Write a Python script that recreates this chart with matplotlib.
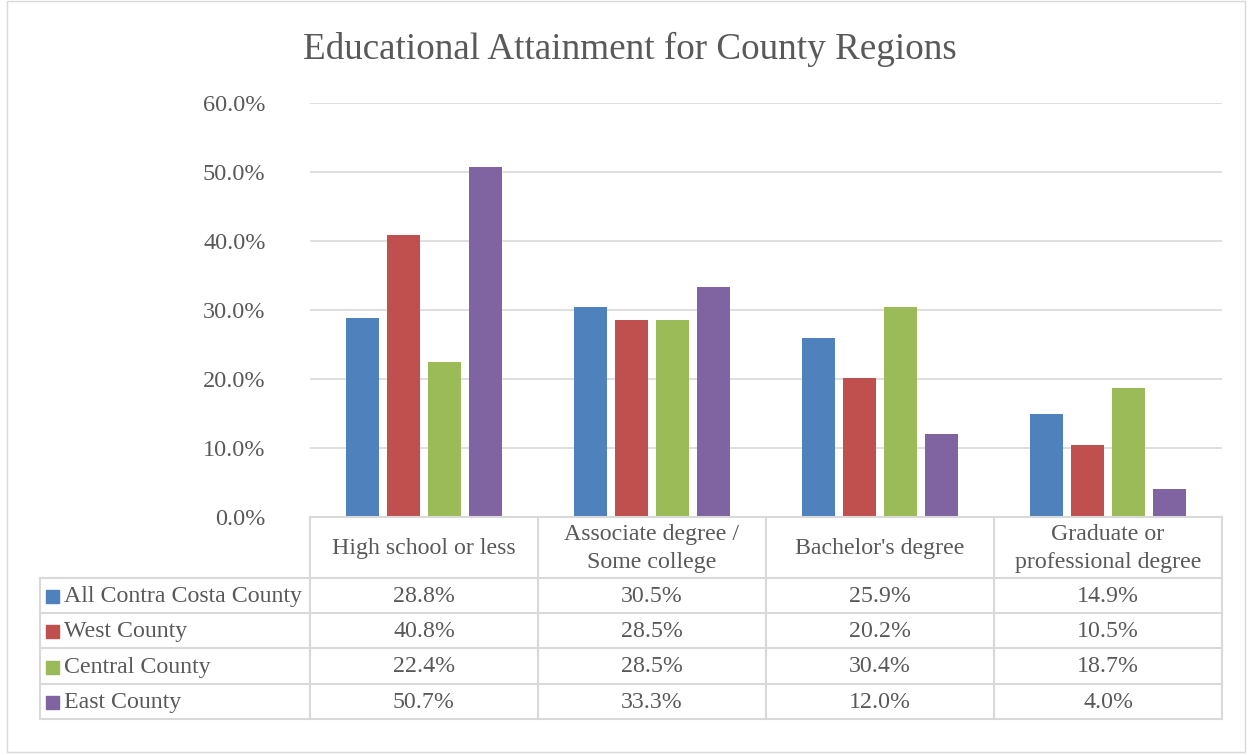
import matplotlib
matplotlib.use("Agg")
import matplotlib.pyplot as plt
from matplotlib.patches import Rectangle
from matplotlib.lines import Line2D

plt.rcParams['font.family'] = ['Liberation Serif', 'DejaVu Serif']

title = "Educational Attainment for County Regions"
categories = ["High school or less", "Associate degree /\nSome college",
              "Bachelor's degree", "Graduate or\nprofessional degree"]
series_names = ["All Contra Costa County", "West County", "Central County", "East County"]
values = [
    [28.8, 30.5, 25.9, 14.9],
    [40.8, 28.5, 20.2, 10.5],
    [22.4, 28.5, 30.4, 18.7],
    [50.7, 33.3, 12.0, 4.0],
]
colors = ["#4F81BD", "#C0504D", "#9BBB59", "#8064A2"]
yticks = [0, 10, 20, 30, 40, 50, 60]

W, H = 1253, 755
fig = plt.figure(figsize=(W / 100, H / 100), dpi=100)
txt = "#595959"
grid = "#D9D9D9"
FS = 17.2

def fx(px):
    return px / W

def fy(py):
    return 1 - py / H

# outer border
fig.add_artist(Rectangle((fx(7), fy(752)), fx(1245) - fx(7), fy(1) - fy(752),
                         transform=fig.transFigure, fill=False, edgecolor=grid, lw=1))

L, R, T, B = 310, 1222, 103, 517
ax = fig.add_axes([fx(L), fy(B), fx(R) - fx(L), fy(T) - fy(B)])
n = len(categories)
step = 0.18
bw = 0.145
for i, (name, vals, c) in enumerate(zip(series_names, values, colors)):
    xs = [k + (i - 1.5) * step for k in range(n)]
    ax.bar(xs, vals, width=bw, color=c, zorder=3)
ax.set_xlim(-0.5, n - 0.5)
ax.set_ylim(0, 60)
ax.set_yticks(yticks)
ax.set_yticklabels([f"{v:.1f}%" for v in yticks], fontsize=17.5, color=txt)
ax.tick_params(axis='y', length=0, pad=32)
ax.set_xticks([])
for s in ax.spines.values():
    s.set_visible(False)
ax.grid(axis='y', color=grid, lw=1.2, zorder=0)
ax.set_axisbelow(True)

fig.text(fx(630), fy(49), title, ha='center', va='center', fontsize=26.7, color=txt)

# data table
colx = [L + k * (R - L) / n for k in range(n + 1)]
rows_y = [517, 578, 613, 648, 684, 719]
lc = "#D9D9D9"
lw = 1.5
def hline(y, x0, x1):
    fig.add_artist(Line2D([fx(x0), fx(x1)], [fy(y), fy(y)], color=lc, lw=lw, transform=fig.transFigure))
def vline(x, y0, y1):
    fig.add_artist(Line2D([fx(x), fx(x)], [fy(y0), fy(y1)], color=lc, lw=lw, transform=fig.transFigure))

hline(rows_y[0], L, R)
for y in rows_y[1:]:
    hline(y, 40, R)
for x in colx:
    vline(x, rows_y[0], rows_y[-1])
vline(40, rows_y[1], rows_y[-1])

for k, cat in enumerate(categories):
    cx = (colx[k] + colx[k + 1]) / 2
    cy = (rows_y[0] + rows_y[1]) / 2 + 1
    fig.text(fx(cx), fy(cy), cat, ha='center', va='center', fontsize=FS, color=txt,
             linespacing=1.38)

for i, (name, vals, c) in enumerate(zip(series_names, values, colors)):
    cy = (rows_y[i + 1] + rows_y[i + 2]) / 2 + 1
    fig.add_artist(Rectangle((fx(46), fy(cy + 6.5)), fx(13), 13 / H, color=c,
                             transform=fig.transFigure))
    fig.text(fx(64), fy(cy), name, ha='left', va='center', fontsize=FS, color=txt)
    for k, v in enumerate(vals):
        cx = (colx[k] + colx[k + 1]) / 2
        fig.text(fx(cx), fy(cy), f"{v:.1f}%", ha='center', va='center', fontsize=FS, color=txt)

fig.savefig("out.png", dpi=100)
